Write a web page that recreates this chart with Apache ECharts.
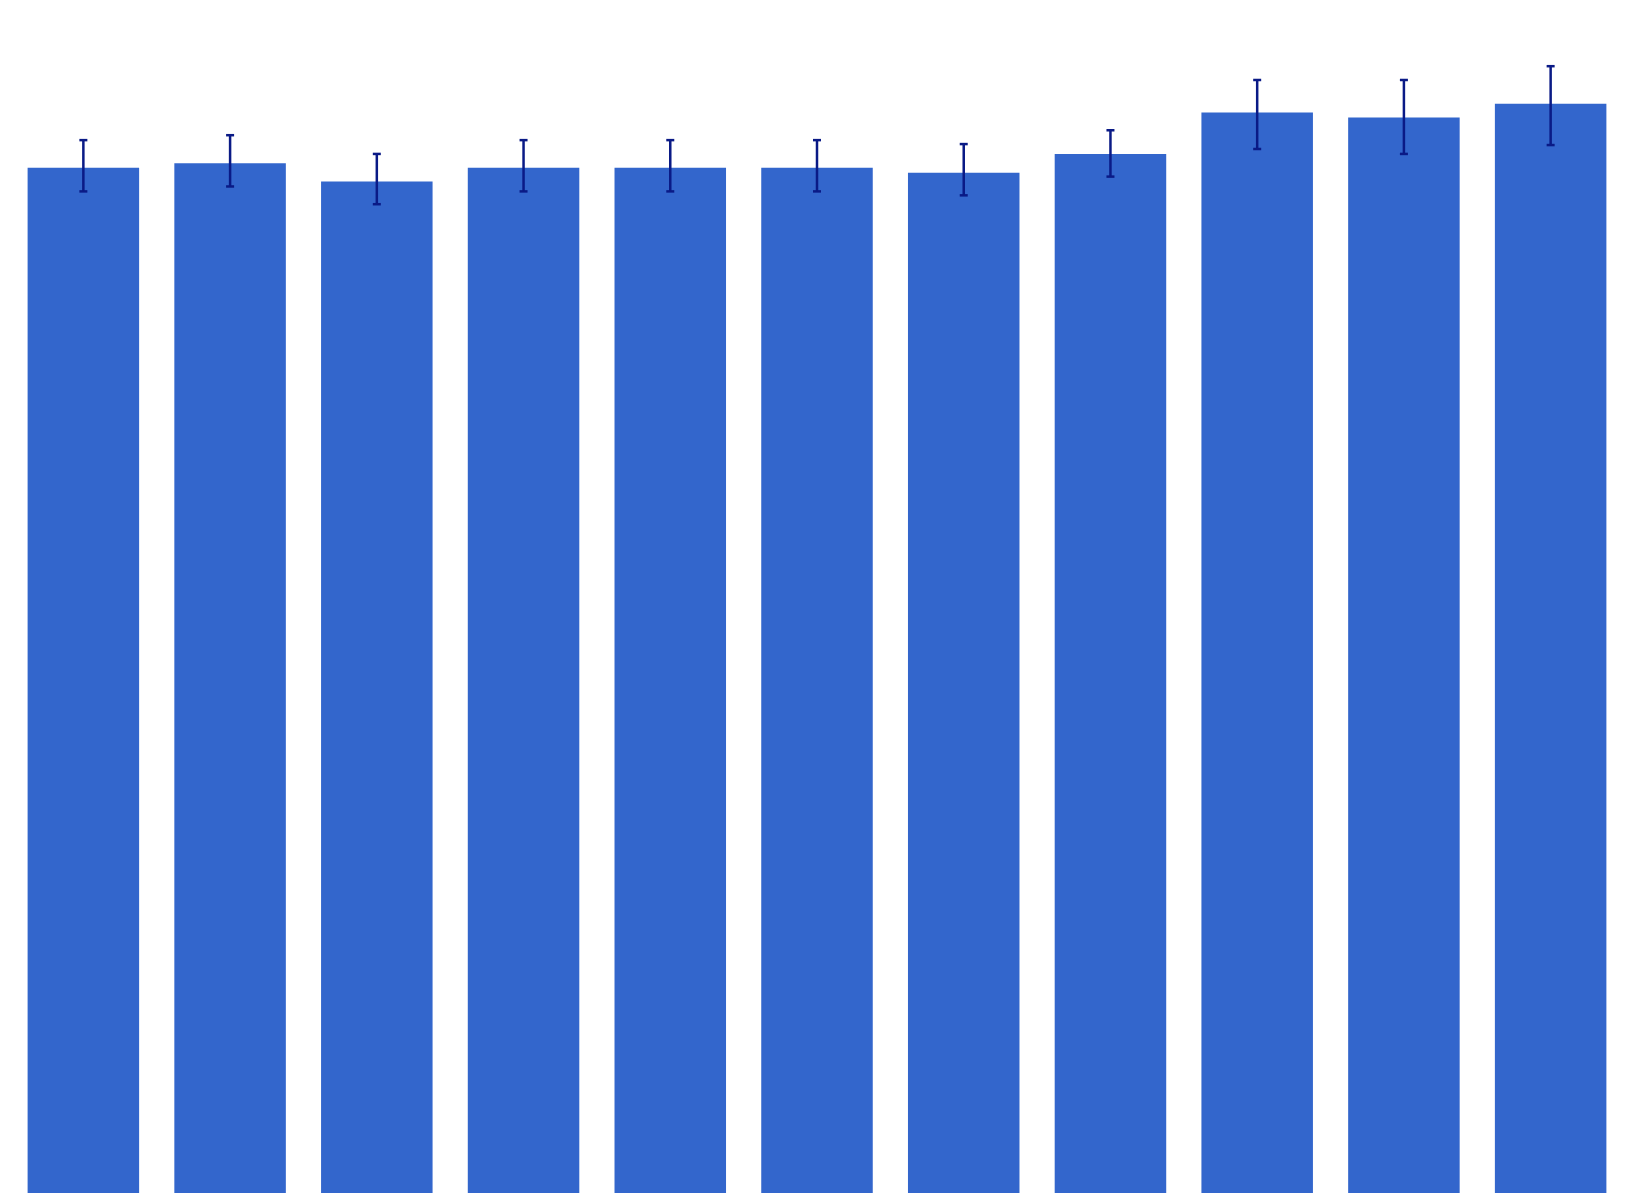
<!DOCTYPE html>
<html>
<head>
<meta charset="utf-8">
<script src="https://cdn.jsdelivr.net/npm/echarts@6/dist/echarts.min.js"></script>
<style>
  html, body { margin: 0; padding: 0; background: #fff; }
  #chart { width: 1634px; height: 1203px; }
</style>
</head>
<body>
<div id="chart"></div>
<script>
// 数据
var categories = ['1', '2', '3', '4', '5', '6', '7', '8', '9', '10', '11'];
var values = [104.0, 104.45, 102.6, 104.0, 104.0, 104.0, 103.5, 105.4, 109.6, 109.1, 110.5];
var errLow = [101.6, 102.1, 100.3, 101.6, 101.6, 101.6, 101.2, 103.1, 105.9, 105.4, 106.3];
var errHigh = [106.8, 107.3, 105.4, 106.8, 106.8, 106.8, 106.4, 107.8, 112.9, 112.9, 114.3];

var errData = categories.map(function (c, i) {
  return [i, errLow[i], errHigh[i]];
});

var myChart = echarts.init(document.getElementById('chart'));
var option = {
  animation: false,
  grid: { left: 10, right: 10, top: 10, bottom: 10 },
  xAxis: {
    type: 'category',
    data: categories,
    show: false
  },
  yAxis: {
    type: 'value',
    min: 0,
    max: 120,
    show: false
  },
  series: [
    {
      type: 'bar',
      data: values,
      barCategoryGap: '24%',
      itemStyle: { color: '#3366cc' }
    },
    {
      type: 'custom',
      data: errData,
      z: 10,
      renderItem: function (params, api) {
        var x = api.value(0);
        var lo = api.coord([x, api.value(1)]);
        var hi = api.coord([x, api.value(2)]);
        var half = 4;
        var st = { stroke: '#0a1a86', lineWidth: 2.5 };
        return {
          type: 'group',
          children: [
            { type: 'line', shape: { x1: hi[0], y1: hi[1], x2: lo[0], y2: lo[1] }, style: st },
            { type: 'line', shape: { x1: hi[0] - half, y1: hi[1], x2: hi[0] + half, y2: hi[1] }, style: st },
            { type: 'line', shape: { x1: lo[0] - half, y1: lo[1], x2: lo[0] + half, y2: lo[1] }, style: st }
          ]
        };
      }
    }
  ]
};
myChart.setOption(option);
window.addEventListener('resize', function () {
  myChart.resize();
});
</script>
</body>
</html>
